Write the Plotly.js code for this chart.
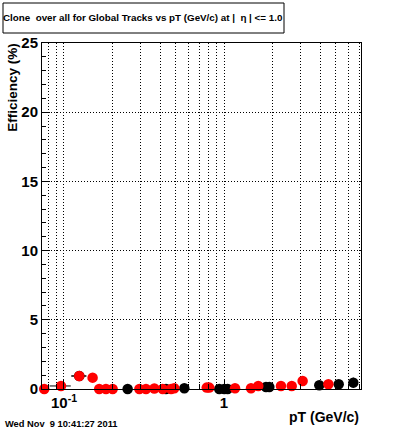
<!DOCTYPE html>
<html>
<head>
<meta charset="utf-8">
<script src="https://cdn.plot.ly/plotly-3.0.1.min.js"></script>
<style>html,body{margin:0;padding:0;background:#fff;}#chart{width:400px;height:433px;}</style>
</head>
<body>
<div id="chart"></div>
<script>
// ---- data ----
const blackX = [0.1246, 0.250, 0.434, 0.565, 0.934, 1.004, 1.054, 1.83, 1.92, 3.94, 5.21, 6.43];
const blackY = [0.94, 0, 0, 0.05, 0, 0, 0, 0.14, 0.14, 0.27, 0.34, 0.46];
const blackErrX = [0.0135, 0, 0, 0, 0, 0, 0, 0, 0, 0, 0, 0];
const blackErrYPlus = [0, 0, 0, 0, 0, 0.3, 0, 0, 0, 0, 0, 0.36];
const blackErrYMinus = [0, 0, 0, 0, 0, 0, 0, 0, 0, 0, 0, 0.36];

const redX = [0.0753, 0.0958, 0.1246, 0.151, 0.166, 0.183, 0.2015, 0.296, 0.3255, 0.367, 0.414, 0.467, 0.489, 0.780, 0.809, 1.172, 1.475, 1.637, 2.27, 2.65, 3.10, 4.49];
const redY = [0, 0.22, 0.94, 0.82, 0, 0, 0, 0, 0, 0.03, 0, 0, 0.05, 0.1, 0.1, 0.05, 0.05, 0.22, 0.22, 0.22, 0.58, 0.34];
const redErrX = [0, 0.0145, 0, 0, 0, 0, 0, 0, 0, 0, 0, 0, 0, 0, 0, 0, 0, 0, 0, 0, 0, 0];
const redErrY = [0, 0, 0, 0, 0, 0, 0, 0, 0, 0, 0, 0, 0, 0, 0, 0, 0, 0, 0, 0, 0.36, 0];

const xTickVals = [0.1, 1];
const xTickText = ['10<sup>-1</sup>', '1'];
const xMinorVals = [0.08, 0.09, 0.2, 0.3, 0.4, 0.5, 0.6, 0.7, 0.8, 0.9, 2, 3, 4, 5, 6, 7];
const yTickVals = [0, 5, 10, 15, 20, 25];

const titleText = 'Clone  over all for Global Tracks vs pT (GeV/c) at |  \u03b7 | &lt;= 1.0';
const xTitle = 'pT (GeV/c)';
const yTitle = 'Efficiency (%)';
const dateText = 'Wed Nov  9 10:41:27 2011';

const FONT = 'Liberation Sans, Arial, sans-serif';
const DOT = '1px,2px';

const traces = [
  {
    x: blackX, y: blackY, type: 'scatter', mode: 'markers', cliponaxis: false,
    marker: {color: '#000000', size: 10.5, symbol: 'circle'},
    error_x: {type: 'data', array: blackErrX, color: '#000', thickness: 1.5, width: 0},
    error_y: {type: 'data', symmetric: false, array: blackErrYPlus, arrayminus: blackErrYMinus, color: '#000', thickness: 1, width: 0},
    showlegend: false, hoverinfo: 'x+y'
  },
  {
    x: redX, y: redY, type: 'scatter', mode: 'markers', cliponaxis: false,
    marker: {color: '#ff0000', size: 10.5, symbol: 'circle'},
    error_x: {type: 'data', array: redErrX, color: '#000', thickness: 1, width: 0},
    error_y: {type: 'data', array: redErrY, color: '#000', thickness: 1, width: 0},
    showlegend: false, hoverinfo: 'x+y'
  }
];

const layout = {
  width: 400, height: 433,
  margin: {l: 42, r: 39, t: 43, b: 44, pad: 0},
  paper_bgcolor: '#ffffff', plot_bgcolor: '#ffffff',
  font: {family: FONT, color: '#000'},
  xaxis: {
    type: 'log',
    range: [Math.log10(0.0729), Math.log10(7.18)],
    tickmode: 'array', tickvals: xTickVals, ticktext: xTickText,
    ticks: 'inside', ticklen: 10, tickcolor: '#000', tickwidth: 1,
    tickfont: {family: FONT, size: 15, weight: 'bold', color: '#000'},
    showgrid: true, gridcolor: '#000', griddash: DOT, gridwidth: 1,
    minor: {tickmode: 'array', tickvals: xMinorVals, ticks: 'inside', ticklen: 5, tickcolor: '#000',
            showgrid: true, gridcolor: '#000', griddash: DOT, gridwidth: 1},
    showline: true, linecolor: '#000', linewidth: 1, mirror: true,
    zeroline: false
  },
  yaxis: {
    range: [0, 25],
    tickmode: 'array', tickvals: yTickVals,
    ticks: 'inside', ticklen: 8, tickcolor: '#000', tickwidth: 1,
    tickfont: {family: FONT, size: 15, weight: 'bold', color: '#000'},
    showgrid: true, gridcolor: '#000', griddash: DOT, gridwidth: 1,
    minor: {dtick: 1, ticks: 'inside', ticklen: 4, tickcolor: '#000', showgrid: false},
    showline: true, linecolor: '#000', linewidth: 1, mirror: true,
    zeroline: false
  },
  shapes: [
    {type: 'rect', xref: 'paper', yref: 'paper',
     x0: -39/319, x1: 242/319, y0: 1 + 10/346, y1: 1 + 40/346,
     line: {color: '#000', width: 1}, fillcolor: '#fff'}
  ],
  annotations: [
    {text: titleText, xref: 'paper', yref: 'paper', x: -41/319, y: 1 + 25/346,
     xanchor: 'left', yanchor: 'middle', showarrow: false,
     font: {family: FONT, size: 9.8, weight: 'bold', color: '#000'}},
    {text: xTitle, xref: 'paper', yref: 'paper', x: 1, y: -28/346,
     xanchor: 'right', yanchor: 'middle', showarrow: false,
     font: {family: FONT, size: 14, weight: 'bold', color: '#000'}},
    {text: yTitle, xref: 'paper', yref: 'paper', x: -29/319, y: 1.005,
     xanchor: 'center', yanchor: 'top', textangle: -90, showarrow: false,
     font: {family: FONT, size: 13.5, weight: 'bold', color: '#000'}},
    {text: dateText, xref: 'paper', yref: 'paper', x: -39/319, y: -35/346,
     xanchor: 'left', yanchor: 'middle', showarrow: false,
     font: {family: FONT, size: 9.3, weight: 'bold', color: '#000'}}
  ]
};

Plotly.newPlot('chart', traces, layout, {displayModeBar: false, staticPlot: true});
</script>
</body>
</html>
